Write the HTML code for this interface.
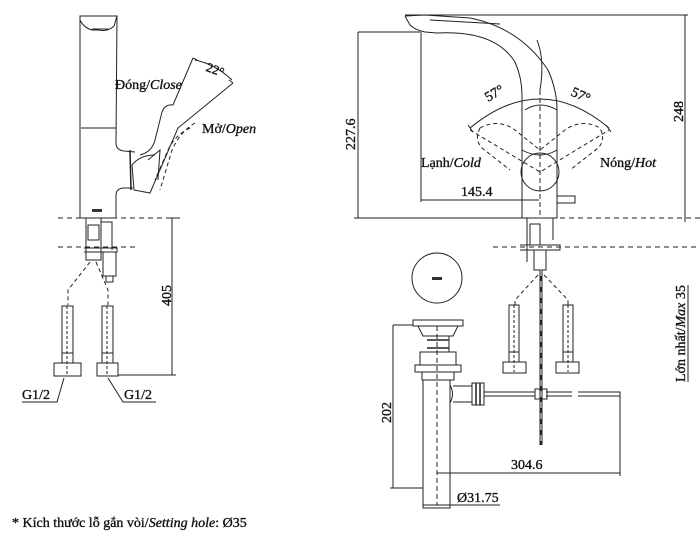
<!DOCTYPE html>
<html><head><meta charset="utf-8"><style>
html,body{margin:0;padding:0;background:#fff;}
svg{display:block;}
text{font-family:"Liberation Serif","DejaVu Serif",serif;fill:#111;stroke:#111;stroke-width:0.35;}
</style></head><body>
<svg width="700" height="537" viewBox="0 0 700 537" xmlns="http://www.w3.org/2000/svg" fill="none" stroke="#222" stroke-width="1">
<!-- LEFT FAUCET side view -->
<path d="M80 16 L117 16 L114 26 Q108 32 98 30 L92 30 Q84 28 80 20 Z"/>
<path d="M92 29 L108 29"/>
<path d="M80 20 L80 218 L116 218 L116 196 Q116 188 124 188 L133 188"/>
<path d="M117 16 L116 143 Q116 150 124 151 L135 152"/>
<path d="M81 128 L116 128"/>
<path d="M130 150 L131 190" stroke-width="1.5"/>
<!-- handle -->
<path d="M193 58 L173 105 Q165 104 162 112 L155 140 Q152 152 140 155"/>
<path d="M233 83 L178 128 L150 193 L134 190 L132 165 Q140 155 155 155"/>
<path d="M148 160 L160 150 L158 180" />
<path d="M190 128 Q175 135 168 150 L155 180" stroke-dasharray="4 3"/>
<path d="M195 123 Q180 132 172 150 L160 190" stroke-dasharray="4 3"/>
<path d="M195 60 Q215 64 232 80"/>
<path d="M193 58 L197 60 M233 83 L229 80"/>
<text x="115" y="89" font-size="14">Đóng/<tspan font-style="italic">Close</tspan></text>
<text x="202" y="133" font-size="14">Mở/<tspan font-style="italic">Open</tspan></text>
<text x="206" y="74" font-size="13" transform="rotate(20 215 70)">22°</text>
<rect x="92" y="209" width="10" height="3" fill="#333" stroke="none"/>
<!-- dashed levels -->
<path d="M58 218 L180 218 M58 247 L135 247" stroke-dasharray="5 4"/>
<!-- under-body fittings -->
<path d="M86 218 L86 260 L101 260 L101 218 M88 225 L99 225 L99 240 L88 240 Z M101 222 L112 222 L112 250 M84 248 L117 248 L117 252 L84 252"/>
<path d="M103 252 L103 276 L116 276 L116 252 M106 276 L106 282 L113 282 L113 276"/>
<!-- hose dashed connectors -->
<path d="M90 262 L68 290 L68 305 M96 262 L108 290 L108 305" stroke-dasharray="4 3"/>
<!-- hoses -->
<path d="M62 306 L73 306 L73 353 L62 353 Z M102 306 L113 306 L113 353 L102 353 Z"/>
<path d="M67 306 L67 375 M107 306 L107 375" stroke-dasharray="3 2"/>
<path d="M62 353 L62 363 L73 363 L73 353 M102 353 L102 363 L113 363 L113 353"/>
<path d="M54 363 L81 363 L81 376 L54 376 Z M97 363 L118 363 L118 376 L97 376 Z"/>
<path d="M64 378 L57 402 L22 402 M108 378 L123 402 L156 402"/>
<text x="22" y="399" font-size="14">G1/2</text>
<text x="124" y="399" font-size="14">G1/2</text>
<!-- 405 dim -->
<path d="M172 218 L172 375 M118 375 L176 375 M168 218 L176 218"/>
<text x="0" y="0" font-size="14" transform="translate(171 306) rotate(-90)">405</text>

<!-- RIGHT FAUCET front view -->
<path d="M405 16 L425 15 L470 18 Q520 28 548 70 Q557 90 557 110"/>
<path d="M405 16 L410 25 Q415 30 425 32 L437 33 Q495 30 515 62 Q522 78 522 95"/>
<path d="M430 20 L500 24"/>
<path d="M537 40 Q545 60 540 90"/>
<path d="M522 160 L522 218 L557 218 L557 110"/>
<path d="M522 95 L522 160"/>
<path d="M525 110 Q540 100 557 110 L557 150 Q540 160 522 150"/>
<circle cx="540" cy="172" r="19"/>
<path d="M540 90 L540 218" stroke-dasharray="5 3"/>
<path d="M470 128 Q540 70 609 128"/>
<path d="M468 125 L473 132 M606 125 L611 132"/>
<path d="M470 130 L540 172 L609 130 M480 128 Q498 118 515 130 L540 150 L565 130 Q582 118 600 128 Q606 140 598 148 L570 170 M480 128 Q474 140 482 148 L510 170" stroke-dasharray="4 3"/>
<text x="0" y="0" font-size="14" transform="translate(488 102) rotate(-30)">57°</text>
<text x="0" y="0" font-size="14" transform="translate(570 95) rotate(25)">57°</text>
<text x="421" y="167" font-size="14">Lạnh/<tspan font-style="italic">Cold</tspan></text>
<text x="600" y="167" font-size="14">Nóng/<tspan font-style="italic">Hot</tspan></text>
<path d="M557 196 L575 196 L575 203 L557 203"/>
<!-- dims -->
<path d="M405 15 L688 15 M685 15 L685 222 M358 32 L420 32 M358 32 L358 218 M354 218 L524 218 M421 32 L421 202 M421 200 L539 200"/>
<text x="0" y="0" font-size="14" transform="translate(355 150) rotate(-90)">227.6</text>
<text x="0" y="0" font-size="14" transform="translate(683 122) rotate(-90)">248</text>
<text x="461" y="196" font-size="14">145.4</text>
<path d="M524 218 L700 218 M493 247 L700 247" stroke-dasharray="5 4"/>
<!-- under fittings right -->
<path d="M527 218 L527 262 M553 218 L553 240 M530 224 L540 224 L540 245 L530 245 Z M520 245 L560 245 L560 250 L520 250 M534 250 L534 270 L546 270 L546 250"/>
<path d="M541 270 L541 445" stroke-width="3"/>
<path d="M541 270 L541 445" stroke="#fff" stroke-width="1" stroke-dasharray="6 5"/>
<path d="M538 275 L515 300 L515 305 M544 275 L568 300 L568 305" stroke-dasharray="4 3"/>
<path d="M509 305 L519 305 L519 352 L509 352 Z M563 305 L573 305 L573 352 L563 352 Z"/>
<path d="M514 305 L514 372 M568 305 L568 372" stroke-dasharray="3 2"/>
<path d="M503 362 L526 362 L526 373 L503 373 Z M556 362 L579 362 L579 373 L556 373 Z M509 352 L509 362 M519 352 L519 362 M563 352 L563 362 M573 352 L573 362"/>
<text x="0" y="0" font-size="14" transform="translate(685 382) rotate(-90)">Lớn nhất/<tspan font-style="italic">Max</tspan> 35</text>
<path d="M688 382 L688 285"/>
<!-- popup cap -->
<circle cx="437" cy="278" r="25"/>
<rect x="432" y="277" width="10" height="3" fill="#333" stroke="none"/>
<!-- drain -->
<path d="M413 320 L463 320 L463 326 L413 326 Z M418 326 L458 326 L453 336 L423 336 Z M427 336 L449 336 L449 352 L427 352 M420 352 L456 352 L456 365 L420 365 Z M415 365 L461 365 L461 372 L415 372 Z M422 372 L454 372 L454 380 L422 380 Z"/>
<path d="M427 340 L449 340 M427 348 L449 348" stroke-width="1.5"/>
<path d="M423 380 L423 508 L450 508 L450 380"/>
<path d="M450 385 Q455 394 450 403"/>
<path d="M453 386 L472 386 L472 402 L453 402 M472 383 L484 383 L484 405 L472 405 Z"/>
<path d="M476 383 L476 405 M480 383 L480 405" stroke-width="1.5"/>
<path d="M484 392 L535 392 M484 396 L535 396 M546 392 L572 392 M546 396 L572 396 M578 392 L620 392 L620 396 L578 396"/>
<rect x="535" y="389" width="12" height="10"/>
<path d="M437 326 L437 505" stroke-dasharray="5 3"/>
<!-- dims drain -->
<path d="M393 325 L413 325 M393 325 L393 488 M390 488 L423 488"/>
<text x="0" y="0" font-size="14" transform="translate(391 423) rotate(-90)">202</text>
<path d="M437 473 L620 473 M620 396 L620 476"/>
<text x="511" y="469" font-size="14">304.6</text>
<path d="M423 508 L423 502 M423 505 L500 505"/>
<text x="457" y="502" font-size="14">Ø31.75</text>
<!-- footer -->
<text x="12" y="527" font-size="14">* Kích thước lỗ gắn vòi/<tspan font-style="italic">Setting hole</tspan>: Ø35</text>
</svg>
</body></html>
